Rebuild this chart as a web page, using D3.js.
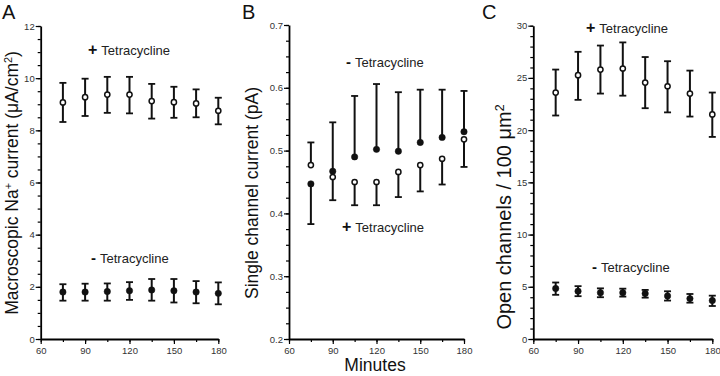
<!DOCTYPE html>
<html>
<head>
<meta charset="utf-8">
<script src="https://cdn.jsdelivr.net/npm/d3@7"></script>
<style>
  body { margin: 0; background: #fff; }
  svg { font-family: Arial, "Liberation Sans", sans-serif; }
</style>
</head>
<body>
<div id="chart"></div>
<script>
// time points (minutes)
var minutes = [75, 90, 105, 120, 135, 150, 165, 180];

// Panel A - macroscopic Na+ current (uA/cm2)
var aPlusMean = [9.07, 9.27, 9.37, 9.37, 9.12, 9.08, 9.03, 8.75];
var aPlusHi   = [9.82, 9.98, 10.05, 10.05, 9.78, 9.67, 9.57, 9.25];
var aPlusLo   = [8.32, 8.55, 8.67, 8.65, 8.45, 8.48, 8.50, 8.23];
var aMinusMean = [1.80, 1.80, 1.82, 1.85, 1.88, 1.85, 1.80, 1.75];
var aMinusHi   = [2.10, 2.12, 2.13, 2.18, 2.30, 2.30, 2.22, 2.17];
var aMinusLo   = [1.47, 1.47, 1.47, 1.50, 1.47, 1.40, 1.37, 1.33];

// Panel B - single channel current (pA), one-sided error bars (bar end value)
var bPlusMean  = [0.477, 0.458, 0.450, 0.450, 0.466, 0.477, 0.487, 0.518];
var bPlusEnd   = [0.513, 0.421, 0.413, 0.413, 0.426, 0.435, 0.446, 0.474];
var bMinusMean = [0.447, 0.467, 0.490, 0.502, 0.499, 0.513, 0.521, 0.530];
var bMinusEnd  = [0.383, 0.545, 0.587, 0.606, 0.593, 0.597, 0.597, 0.595];

// Panel C - open channels / 100 um2
var cPlusMean = [23.6, 25.26, 25.8, 25.9, 24.55, 24.2, 23.5, 21.5];
var cPlusHi   = [25.8, 27.5, 28.1, 28.4, 27.0, 26.6, 25.7, 23.6];
var cPlusLo   = [21.4, 22.9, 23.5, 23.3, 22.1, 21.7, 21.3, 19.35];
var cMinusMean = [4.84, 4.58, 4.44, 4.44, 4.35, 4.12, 3.87, 3.68];
var cMinusHi   = [5.41, 5.06, 4.85, 4.82, 4.70, 4.57, 4.31, 4.15];
var cMinusLo   = [4.23, 4.10, 4.00, 4.06, 3.96, 3.68, 3.48, 3.16];

// tick values
var xTicks = [60, 90, 120, 150, 180];
var aTicks = [0, 2, 4, 6, 8, 10, 12];
var bTicks = [0.2, 0.3, 0.4, 0.5, 0.6, 0.7];
var cTicks = [0, 5, 10, 15, 20, 25, 30];

var svg = d3.select("#chart").append("svg")
  .attr("width", 720)
  .attr("height", 376);

function drawPanel(p) {
  var x = d3.scaleLinear().domain([60, 180]).range([p.left, p.right]);
  var y = d3.scaleLinear().domain(p.yDomain).range([339, p.top]);
  var g = svg.append("g");

  // minor ticks
  var yMinor = d3.range(p.yDomain[0], p.yDomain[1] + p.yMinor / 2, p.yMinor);
  g.append("g")
    .attr("transform", "translate(" + p.left + ",0)")
    .call(d3.axisLeft(y).tickValues(yMinor).tickSize(3).tickFormat(""))
    .call(a => a.select(".domain").remove())
    .selectAll("line").attr("stroke-width", 1.2);
  g.append("g")
    .attr("transform", "translate(0,339)")
    .call(d3.axisBottom(x).tickValues(d3.range(60, 181, 15)).tickSize(3).tickFormat(""))
    .call(a => a.select(".domain").remove())
    .selectAll("line").attr("stroke-width", 1.2);

  // major axes
  var yAxis = g.append("g")
    .attr("transform", "translate(" + p.left + ",0)")
    .call(d3.axisLeft(y).tickValues(p.yTicks).tickSize(5).tickSizeOuter(0).tickFormat(p.fmt));
  var xAxis = g.append("g")
    .attr("transform", "translate(0,339)")
    .call(d3.axisBottom(x).tickValues(xTicks).tickSize(5).tickSizeOuter(0));
  [xAxis, yAxis].forEach(a => {
    a.select(".domain").attr("stroke-width", 1.8);
    a.selectAll(".tick line").attr("stroke-width", 1.2);
    a.selectAll("text").attr("font-size", 9.5).attr("fill", "#333")
      .attr("font-family", "Arial, 'Liberation Sans', sans-serif");
  });
  yAxis.selectAll("text").attr("x", -6);
  xAxis.selectAll("text").attr("y", 8);

  // error bars and points
  p.series.forEach(s => {
    var rows = minutes.map((m, i) => s.end
      ? { m: m, v: s.mean[i], a: s.mean[i], b: s.end[i], caps: [s.end[i]] }
      : { m: m, v: s.mean[i], a: s.lo[i], b: s.hi[i], caps: [s.lo[i], s.hi[i]] });
    g.append("g").selectAll("line").data(rows).enter().append("line")
      .attr("x1", d => x(d.m)).attr("x2", d => x(d.m))
      .attr("y1", d => y(d.a)).attr("y2", d => y(d.b))
      .attr("stroke", "#111").attr("stroke-width", 2);
    var caps = [];
    rows.forEach(d => d.caps.forEach(c => caps.push({ m: d.m, v: c })));
    g.append("g").selectAll("line").data(caps).enter().append("line")
      .attr("x1", d => x(d.m) - 3.5).attr("x2", d => x(d.m) + 3.5)
      .attr("y1", d => y(d.v)).attr("y2", d => y(d.v))
      .attr("stroke", "#111").attr("stroke-width", 1.8);
    g.append("g").selectAll("circle").data(rows).enter().append("circle")
      .attr("cx", d => x(d.m)).attr("cy", d => y(d.v))
      .attr("r", s.open ? 2.6 : 3.2)
      .attr("fill", s.open ? "#fff" : "#111")
      .attr("stroke", "#111").attr("stroke-width", s.open ? 1.5 : 0.5);
  });

  // annotations
  p.notes.forEach(n => {
    var t = g.append("text").attr("x", n.x).attr("y", n.y).attr("font-size", 13).attr("fill", "#222");
    t.append("tspan").attr("font-size", n.sign == "+" ? 16 : 15).attr("font-weight", "bold")
      .attr("fill", "#111").text(n.sign == "+" ? "+" : "-");
    t.append("tspan").attr("dx", 4).text("Tetracycline");
  });

  // axis title
  var title = svg.append("text")
    .attr("transform", "translate(" + p.titleX + "," + p.titleY + ") rotate(-90)")
    .attr("text-anchor", "middle")
    .attr("font-size", p.titleSize)
    .attr("fill", "#111");
  p.title.forEach(part => {
    var ts = title.append("tspan").text(part.t);
    if (part.sup) ts.attr("baseline-shift", "super").attr("font-size", p.titleSize * 0.62);
  });

  svg.append("text").attr("x", p.letterX).attr("y", 19)
    .attr("font-size", 20).attr("fill", "#111").text(p.letter);
}

drawPanel({
  letter: "A", letterX: 2,
  left: 40.7, right: 218.3, top: 26, yDomain: [0, 12], yTicks: aTicks, yMinor: 0.5,
  fmt: d3.format("d"),
  series: [
    { mean: aPlusMean, lo: aPlusLo, hi: aPlusHi, open: true },
    { mean: aMinusMean, lo: aMinusLo, hi: aMinusHi, open: false }
  ],
  notes: [{ sign: "+", x: 88, y: 55 }, { sign: "-", x: 91, y: 263 }],
  title: [{ t: "Macroscopic Na" }, { t: "+", sup: true }, { t: " current (\u03bcA/cm" }, { t: "2", sup: true }, { t: ")" }],
  titleX: 18, titleY: 183, titleSize: 17.5
});

drawPanel({
  letter: "B", letterX: 242,
  left: 289, right: 464, top: 25, yDomain: [0.2, 0.7], yTicks: bTicks, yMinor: 0.025,
  fmt: d3.format(".1f"),
  series: [
    { mean: bMinusMean, end: bMinusEnd, open: false },
    { mean: bPlusMean, end: bPlusEnd, open: true }
  ],
  notes: [{ sign: "-", x: 346, y: 67 }, { sign: "+", x: 342, y: 232 }],
  title: [{ t: "Single channel current (pA)" }],
  titleX: 258, titleY: 193, titleSize: 17.5
});

drawPanel({
  letter: "C", letterX: 482,
  left: 533.3, right: 712.3, top: 25.7, yDomain: [0, 30], yTicks: cTicks, yMinor: 1,
  fmt: d3.format("d"),
  series: [
    { mean: cPlusMean, lo: cPlusLo, hi: cPlusHi, open: true },
    { mean: cMinusMean, lo: cMinusLo, hi: cMinusHi, open: false }
  ],
  notes: [{ sign: "+", x: 586, y: 33 }, { sign: "-", x: 592, y: 272 }],
  title: [{ t: "Open channels / 100 \u03bcm" }, { t: "2", sup: true }],
  titleX: 511, titleY: 217, titleSize: 20
});

svg.append("text").attr("x", 375).attr("y", 371)
  .attr("text-anchor", "middle").attr("font-size", 17.5).attr("fill", "#111")
  .text("Minutes");
</script>
</body>
</html>
